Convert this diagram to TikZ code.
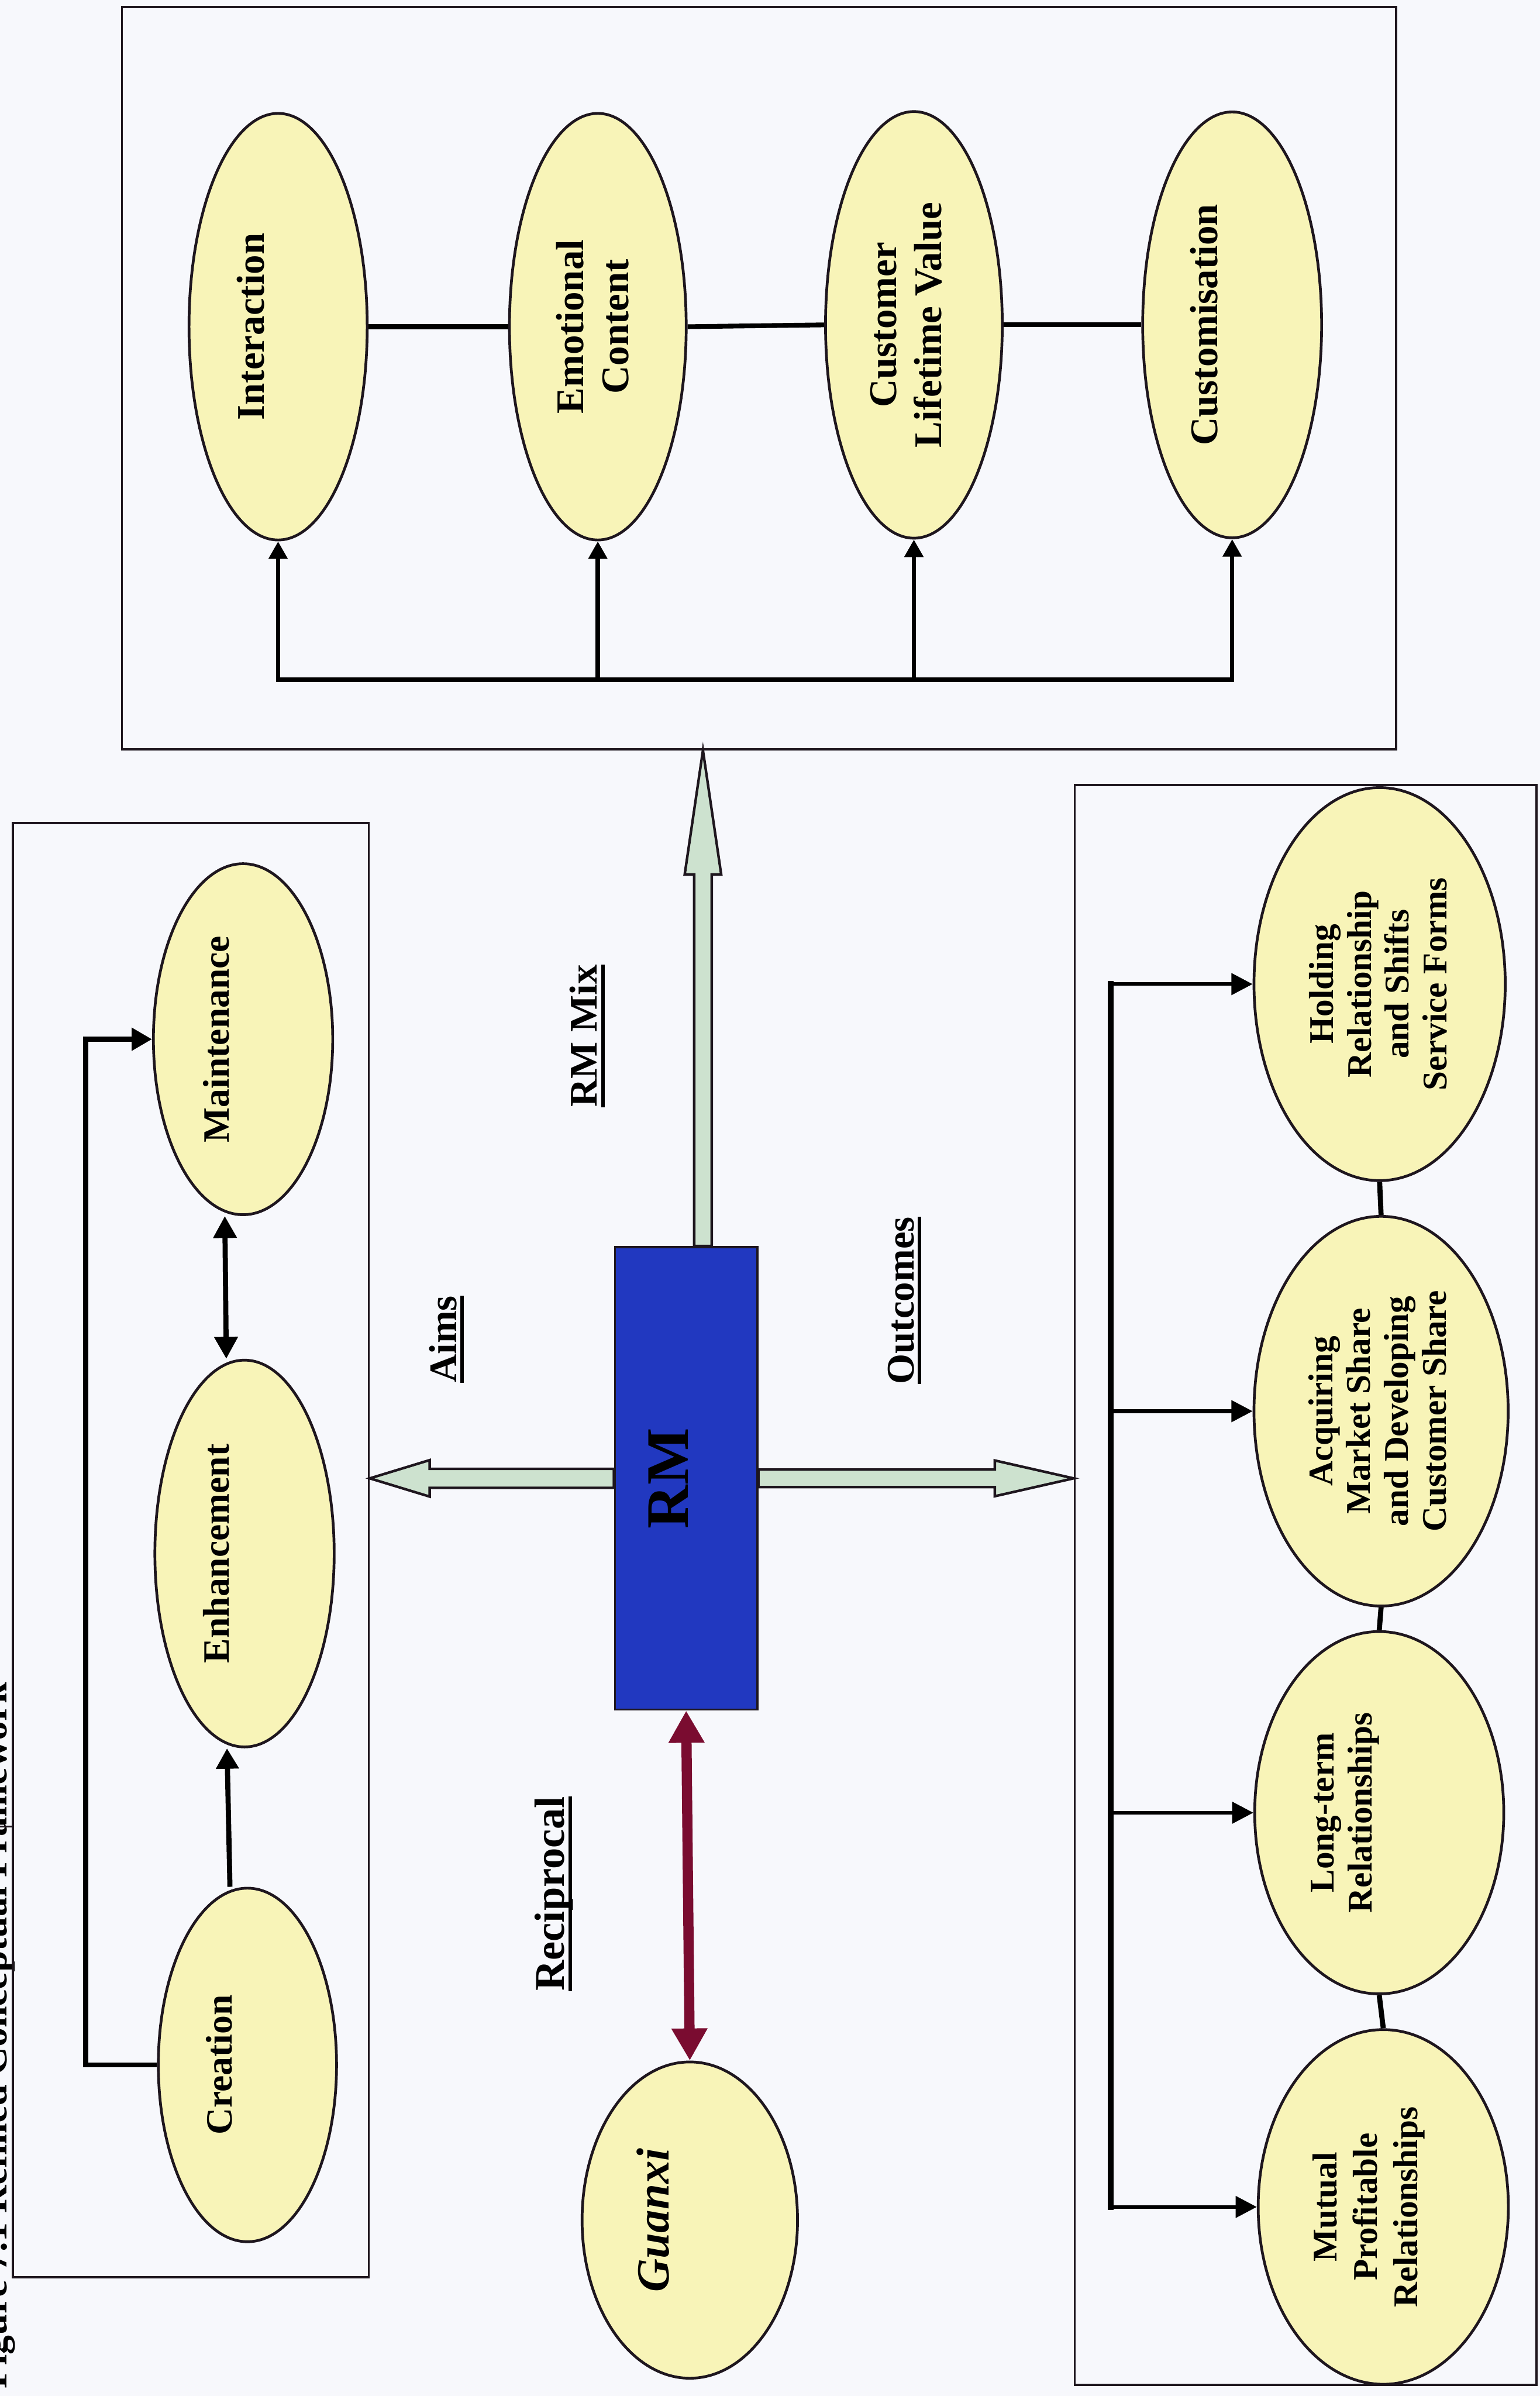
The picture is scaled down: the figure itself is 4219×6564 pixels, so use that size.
\documentclass[tikz,border=0pt]{standalone}
\usepackage{fontspec}
\setmainfont{Liberation Serif}
\usetikzlibrary{shapes.geometric,arrows.meta,calc}

\definecolor{pagebg}{RGB}{247,248,252}
\definecolor{ovalfill}{RGB}{248,244,184}
\definecolor{rmblue}{RGB}{33,56,192}
\definecolor{mixgreen}{RGB}{205,226,207}
\definecolor{guanxired}{RGB}{122,12,48}
\definecolor{ink}{RGB}{30,22,30}

% word with a heavy underline
\newcommand{\ulword}[1]{\setbox0=\hbox{#1}\rlap{\rule[-0.19em]{\wd0}{0.09em}}\box0}

\begin{document}
\begin{tikzpicture}[x=0.01cm,y=-0.01cm,
  oval/.style={ellipse, draw=ink, fill=ovalfill, line width=0.075cm, inner sep=0pt},
  frame/.style={rectangle, draw=ink, line width=0.06cm, inner sep=0pt},
  txtbase/.style={rotate=90, inner sep=0pt, align=center, anchor=north, text=black},
  txtL/.style={txtbase, font=\fontsize{29pt}{33pt}\selectfont\bfseries},
  txtT/.style={txtbase, font=\fontsize{30.5pt}{35.3pt}\selectfont\bfseries},
  txtR/.style={txtbase, font=\fontsize{27pt}{29.5pt}\selectfont\bfseries},
  lab/.style={rotate=90, inner sep=0pt, text=black, font=\fontsize{30.5pt}{34pt}\selectfont\bfseries},
  conT/.style={draw=black, line width=0.12cm},
  conH/.style={draw=black, line width=0.13cm},
  conL/.style={draw=black, line width=0.14cm, line join=miter},
  conB/.style={draw=black, line width=0.17cm},
  conR/.style={draw=black, line width=0.10cm},
  conV/.style={draw=black, line width=0.14cm},
  headT/.style={-{Triangle[length=0.48cm,width=0.5cm]}},
  headL/.style={-{Triangle[length=0.56cm,width=0.6cm]}},
  headR/.style={-{Triangle[length=0.58cm,width=0.58cm]}},
  blockarrow/.style={draw=ink, fill=mixgreen, line width=0.07cm, line join=miter}
]

% page
\fill[pagebg] (0,0) rectangle (4219,6564);
\useasboundingbox (0,0) rectangle (4219,6564);

% caption along the left edge
\node[rotate=90, anchor=base west, inner sep=0pt,
      font=\fontsize{30pt}{34pt}\selectfont\bfseries] (cap) at (18,6545)
      {Figure 7.1 Refined Conceptual Framework};

% frames
\node[frame, minimum width=34.89cm, minimum height=20.32cm] (tbox) at (2079.5,1036) {};
\node[frame, minimum width=9.75cm, minimum height=39.81cm] (lbox) at (522.5,4246.5) {};
\node[frame, minimum width=12.65cm, minimum height=43.80cm] (rbox) at (3577.5,4342) {};
\coordinate (tick) at (0,5004);
\draw[draw=ink, line width=0.05cm] (lbox.west |- tick) -- (tick);

% RM mix components
\node[oval, minimum width=4.88cm, minimum height=11.68cm] (int) at (762,895) {};
\node[oval, minimum width=4.84cm, minimum height=11.68cm] (emo) at (1638,895) {};
\node[oval, minimum width=4.84cm, minimum height=11.68cm] (clv) at (2504,890) {};
\node[oval, minimum width=4.90cm, minimum height=11.66cm] (cus) at (3376,890) {};
\node[txtT] (int-t) at ($(int.west)+(134,0)$) {Interaction};
\node[txtT] (emo-t) at ($(emo.west)+(131,0)$) {Emotional\\Content};
\node[txtT] (clv-t) at ($(clv.west)+(126,0)$) {Customer\\Lifetime Value};
\node[txtT] (cus-t) at ($(cus.west)+(133,0)$) {Customisation};

\draw[conH] (int.east) -- (emo.west);
\draw[conH] (emo.east) -- (clv.west);
\draw[conH] (clv.east) -- (cus.west);

\coordinate (busT) at (0,1862);
\draw[conT, line cap=rect] (int.south |- busT) -- (cus.south |- busT);
\foreach \n in {int,emo,clv,cus}
  \draw[conT, headT] (\n.south |- busT) -- (\n.south);

% aims: creation, enhancement, maintenance
\node[oval, minimum width=4.91cm, minimum height=9.61cm] (mai) at (666,2847) {};
\node[oval, minimum width=4.91cm, minimum height=10.59cm] (enh) at (670,4256) {};
\node[oval, minimum width=4.88cm, minimum height=9.68cm] (cre) at (678,5657) {};
\node[txtL] (mai-t) at ($(mai.west)+(140,0)$) {Maintenance};
\node[txtL] (enh-t) at ($(enh.west)+(136,0)$) {Enhancement};
\node[txtL] (cre-t) at ($(cre.west)+(134,0)$) {Creation};

\coordinate (loopL) at (235,0);
\draw[conL, headL] (cre.west) -- (loopL |- cre.west) -- (loopL |- mai.west) -- (mai.west);
\draw[conL, headL] ($(cre.north)+(-48,0)$) -- ($(enh.south)+(-48,0)$);
\draw[conL, {Triangle[length=0.6cm,width=0.62cm]}-{Triangle[length=0.6cm,width=0.62cm]}]
  ($(enh.north)+(-50,0)$) -- ($(mai.south)+(-50,0)$);

% outcomes
\node[oval, minimum width=6.88cm, minimum height=10.76cm] (hold) at (3780,2696) {};
\node[oval, minimum width=6.96cm, minimum height=10.67cm] (acq) at (3784,3866) {};
\node[oval, minimum width=6.82cm, minimum height=9.92cm] (lt) at (3779,4966) {};
\node[oval, minimum width=6.85cm, minimum height=9.71cm] (mut) at (3790,6046) {};
\node[txtR] (hold-t) at ($(hold.west)+(154,0)$) {Holding\\Relationship\\and Shifts\\Service Forms};
\node[txtR] (acq-t) at ($(acq.west)+(152,0)$) {Acquiring\\Market Share\\and Developing\\Customer Share};
\node[txtR] (lt-t) at ($(lt.west)+(158,0)$) {Long-term\\Relationships};
\node[txtR, font=\fontsize{27pt}{31.5pt}\selectfont\bfseries] (mut-t) at ($(mut.west)+(152,0)$) {Mutual\\Profitable\\Relationships};

\draw[conV] (hold.south) -- (acq.north);
\draw[conV] (acq.south) -- (lt.north);
\draw[conV] (lt.south) -- (mut.north);

\coordinate (busR) at (3043,0);
\draw[conB, line cap=rect] (busR |- hold.west) -- (busR |- mut.west);
\foreach \n in {hold,acq,lt,mut}
  \draw[conR, headR] (busR |- \n.west) -- (\n.west);

% guanxi
\node[oval, minimum width=5.90cm, minimum height=8.66cm] (gx) at (1890,6082) {};
\node[txtbase, font=\fontsize{36pt}{40pt}\selectfont\bfseries\itshape] (gx-t) at ($(gx.west)+(153,0)$) {Guanxi};

% RM core
\node[rectangle, draw=ink, fill=rmblue, line width=0.06cm, inner sep=0pt,
      minimum width=3.9cm, minimum height=12.66cm] (rm) at (1880,4050) {};
\node[txtbase, font=\fontsize{47pt}{50pt}\selectfont\bfseries] (rm-t) at ($(rm.west)+(94,0)$) {RM};

% RM mix block arrow
\coordinate (mixBase) at ($(rm.north)+(46,0)$);
\coordinate (mixTip) at (mixBase |- tbox.south);
\draw[blockarrow] (mixTip) -- ($(mixTip)+(50,340)$) -- ($(mixTip)+(24,340)$)
  -- ($(mixBase)+(24,0)$) -- ($(mixBase)+(-24,0)$) -- ($(mixTip)+(-24,340)$)
  -- ($(mixTip)+(-50,340)$) -- cycle;

% aims block arrow
\coordinate (aimTip) at (lbox.east |- rm.west);
\draw[blockarrow] (aimTip) -- ($(aimTip)+(164,-50)$) -- ($(aimTip)+(164,-26)$)
  -- ($(rm.west)+(0,-26)$) -- ($(rm.west)+(0,26)$) -- ($(aimTip)+(164,26)$)
  -- ($(aimTip)+(164,50)$) -- cycle;

% outcomes block arrow
\coordinate (outTip) at (rbox.west |- rm.east);
\draw[blockarrow] (outTip) -- ($(outTip)+(-216,-49)$) -- ($(outTip)+(-216,-24)$)
  -- ($(rm.east)+(0,-24)$) -- ($(rm.east)+(0,24)$) -- ($(outTip)+(-216,24)$)
  -- ($(outTip)+(-216,49)$) -- cycle;

% reciprocal link
\draw[guanxired, line width=0.28cm,
      {Triangle[length=0.88cm,width=0.93cm]}-{Triangle[length=0.88cm,width=0.93cm]}]
  (rm.south) -- (gx.north);

% link labels
\node[lab] (mix-l) at (1609,2838) {\ulword{RM Mix}};
\node[lab] (aims-l) at (1224,3669) {\ulword{Aims}};
\node[lab] (out-l) at (2479,3563) {\ulword{Outcomes}};
\node[lab, font=\fontsize{33pt}{36pt}\selectfont\bfseries] (rec-l) at (1518,5188) {\ulword{Reciprocal}};

\end{tikzpicture}
\end{document}
